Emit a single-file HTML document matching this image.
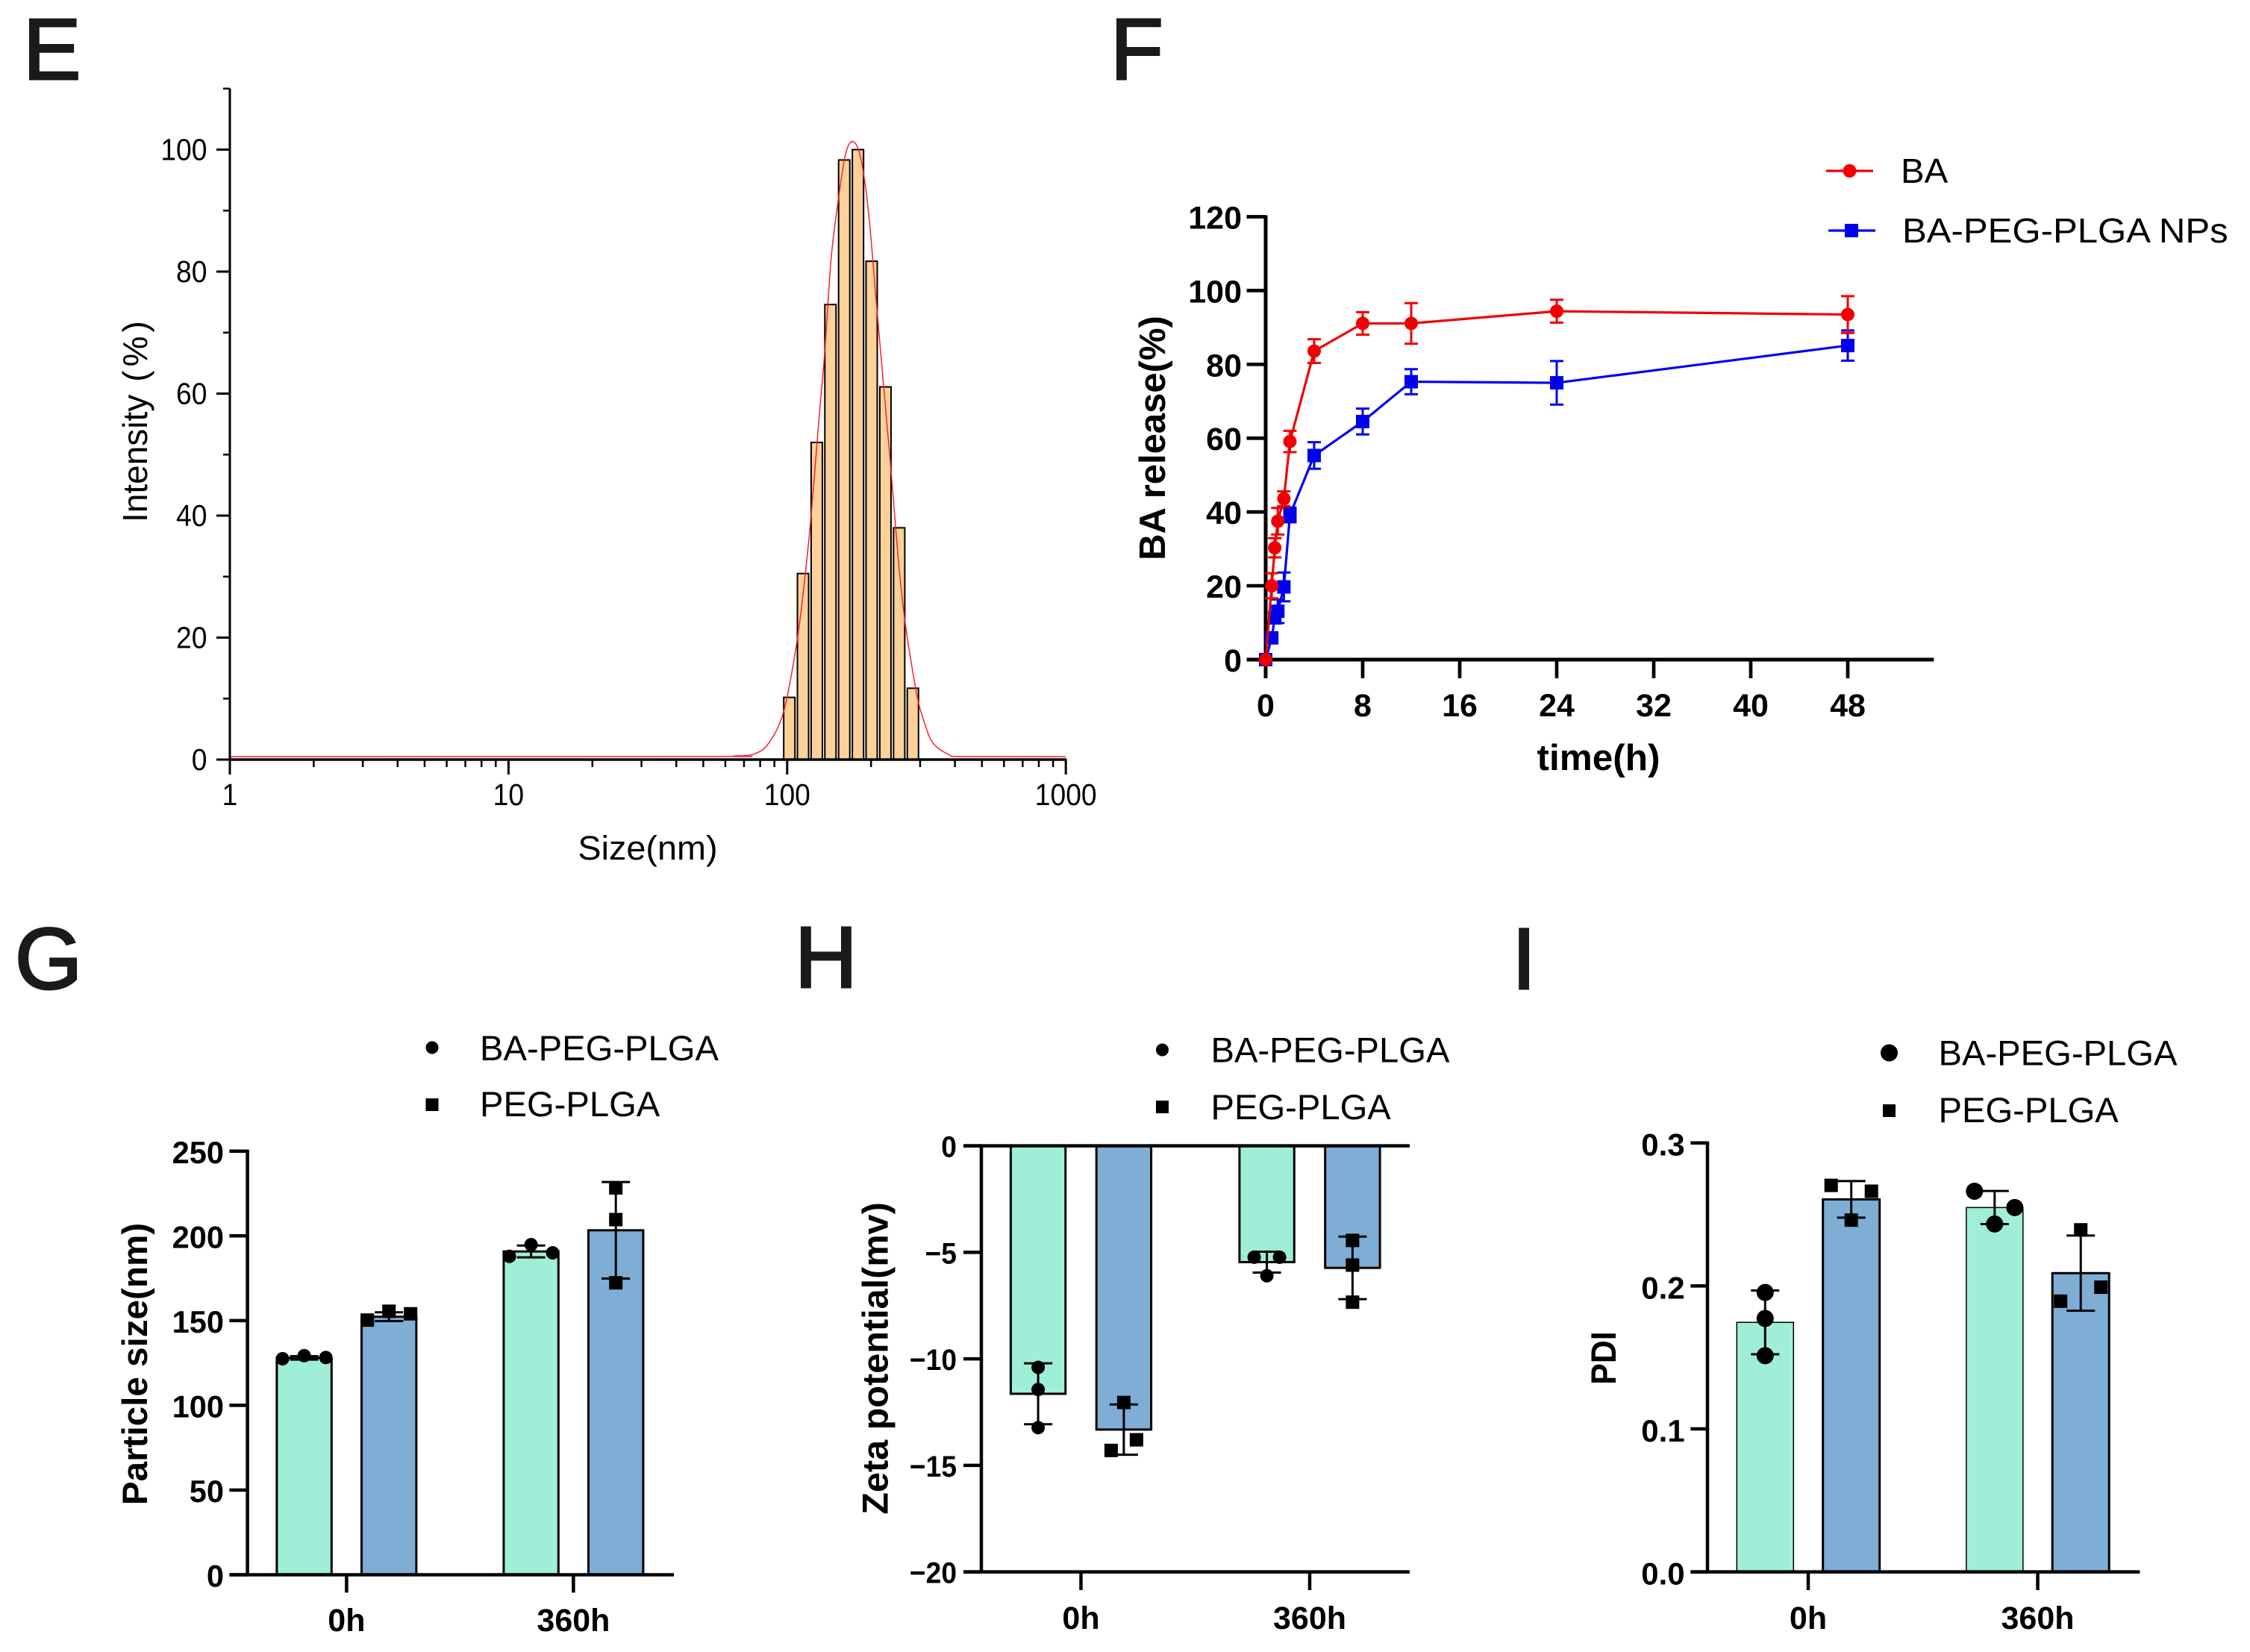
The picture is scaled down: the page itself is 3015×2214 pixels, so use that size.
<!DOCTYPE html>
<html lang="en">
<head>
<meta charset="utf-8">
<title>Nanoparticle characterization panels E–I</title>
<style>
html,body{margin:0;padding:0;background:#fff}
svg{display:block}
text{font-family:"Liberation Sans",sans-serif;fill:#000}
.letter{font-size:116px;fill:#1a1a1a;stroke:#1a1a1a;stroke-width:3px}
.leg{font-size:47.2px}
.title{font-size:47.6px;font-weight:bold}
</style>
</head>
<body>
<svg id="fig" xmlns="http://www.w3.org/2000/svg" width="3015" height="2214" viewBox="0 0 3015 2214">
  <rect width="3015" height="2214" fill="#fff"/>
  <text class="letter" x="31" y="106">E</text>
  <text class="letter" x="1488" y="106">F</text>
  <text class="letter" x="20" y="1325">G</text>
  <text class="letter" x="1065" y="1323">H</text>
  <text class="letter" x="2026" y="1325">I</text>

  <g id="panelE"></g>
  <text font-size="45" text-anchor="middle" transform="translate(868,1152) scale(1.04,1)">Size(nm)</text>
  <text font-size="46" transform="translate(197,700) rotate(-90)">Intensity<tspan dx="17">(</tspan><tspan dx="5">%</tspan><tspan dx="5">)</tspan></text>

  <g id="panelF"></g>
  <text font-size="49.5" font-weight="bold" text-anchor="middle" x="2142" y="1032">time(h)</text>
  <text font-size="49" font-weight="bold" text-anchor="middle" transform="translate(1561,587) rotate(-90)">BA release(%)</text>
  <g>
    <line x1="2447" x2="2510" y1="229" y2="229" stroke="#f00000" stroke-width="3.2"/>
    <circle cx="2478.5" cy="229" r="9" fill="#f00000"/>
    <text font-size="46" transform="translate(2547,245) scale(1.03,1)">BA</text>
    <line x1="2450" x2="2513" y1="309" y2="309" stroke="#0000f0" stroke-width="3.2"/>
    <rect x="2472" y="300" width="18" height="18" fill="#0000f0"/>
    <text font-size="46" transform="translate(2549,325) scale(1.068,1)">BA-PEG-PLGA NPs</text>
  </g>

  <g id="panelG"></g>
  <text class="title" text-anchor="middle" transform="translate(197,1828) rotate(-90)">Particle size(nm)</text>
  <g>
    <circle cx="579" cy="1404" r="8.5" fill="#000"/>
    <rect x="570.5" y="1472" width="17" height="17" fill="#000"/>
    <text class="leg" x="643" y="1421">BA-PEG-PLGA</text>
    <text class="leg" x="643" y="1496">PEG-PLGA</text>
  </g>

  <g id="panelH"></g>
  <text class="title" text-anchor="middle" style="font-size:48.6px" transform="translate(1189.5,1820.5) rotate(-90)">Zeta potential(mv)</text>
  <g>
    <circle cx="1557.5" cy="1407" r="8.5" fill="#000"/>
    <rect x="1549" y="1475" width="17" height="17" fill="#000"/>
    <text class="leg" x="1622.5" y="1423.7">BA-PEG-PLGA</text>
    <text class="leg" x="1622.5" y="1500">PEG-PLGA</text>
  </g>

  <g id="panelI"></g>
  <text class="title" text-anchor="middle" transform="translate(2165,1820) rotate(-90) scale(0.9,1)">PDI</text>
  <g>
    <circle cx="2531.5" cy="1411" r="11.5" fill="#000"/>
    <rect x="2523" y="1480" width="17" height="17" fill="#000"/>
    <text class="leg" x="2597.5" y="1427.6">BA-PEG-PLGA</text>
    <text class="leg" x="2597.5" y="1504">PEG-PLGA</text>
  </g>
</svg>

<script>
// ---- Panel E data: size distribution ----
const eBinSizes = [101.8, 114, 127.7, 143, 160.2, 179.5, 201, 225.2, 252.3, 282.6];
const eBinIntensity = [10.2, 30.5, 52, 74.6, 98.3, 100, 81.7, 61.1, 38, 11.7];
const eCurveSizes = [1, 52.5, 64.4, 75.9, 85.9, 97.2, 107.7, 114.6, 121.9, 129.6, 136.5, 143.7, 152.8, 162.5, 172.9, 183.9, 195.6, 208, 221.3, 235.3, 250.3, 263.6, 277.4, 295.1, 313.8, 333.8, 377.6, 430, 1000];
const eCurveValues = [0.47, 0.5, 0.6, 0.9, 2.7, 7.9, 18.5, 28, 40, 55, 67, 82, 92, 99.5, 101.3, 98.5, 90, 76, 61.8, 48, 33, 23.3, 16.5, 9.6, 5.5, 2.7, 0.9, 0.5, 0.47];
const eXMajor = [1, 10, 100, 1000];
const eXMinor = [2, 3, 4, 5, 6, 7, 8, 9, 20, 30, 40, 50, 60, 70, 80, 90, 200, 300, 400, 500, 600, 700, 800, 900];
const eYMajor = [0, 20, 40, 60, 80, 100];
const eYMinor = [10, 30, 50, 70, 90, 110];

// ---- Panel F data: release ----
const fTimes = [0, 0.5, 0.75, 1, 1.5, 2, 4, 8, 12, 24, 48];
const fBa = [0, 20, 30.3, 37.5, 43.6, 59.1, 83.6, 91.1, 91.1, 94.4, 93.5];
const fBaErr = [0, 3.4, 2.6, 3.6, 2, 2.9, 3.2, 3.05, 5.5, 3.1, 5];
const fNps = [0, 5.9, 11.3, 13.1, 19.7, 39.2, 55.3, 64.5, 75.3, 75, 85.1];
const fNpsErr = [0, 0.5, 1.5, 3.2, 3.9, 2, 3.6, 3.5, 3.4, 5.9, 4.1];
const fXTicks = [0, 8, 16, 24, 32, 40, 48];
const fYTicks = [0, 20, 40, 60, 80, 100, 120];

// ---- Panel G data: particle size ----
const gCategories = ['0h', '360h'];
const gYTicks = [0, 50, 100, 150, 200, 250];
const gBaMeans = [128, 190.8];
const gPegMeans = [152.3, 203.3];
const gBaErr = [1, 3.5];
const gPegErr = [2.6, 28.5];
const gBaPoints = [[127.5, 129.3, 128.2], [187.9, 194.8, 190]];
const gPegPoints = [[150.3, 155.5, 154], [228.3, 209.6, 172.3]];
const gBaSpread = [[-1, 0, 1], [-1, 0, 1]];
const gPegSpread = [[-1, 0, 1], [0, 0, 0]];

// ---- Panel H data: zeta potential ----
const hCategories = ['0h', '360h'];
const hYTicks = [0, -5, -10, -15, -20];
const hBaMeans = [-11.64, -5.46];
const hPegMeans = [-13.32, -5.73];
const hBaErr = [1.43, 0.49];
const hPegErr = [1.18, 1.47];
const hBaPoints = [[-10.4, -11.44, -13.23], [-5.23, -5.23, -6.1]];
const hPegPoints = [[-12.05, -14.3, -13.8], [-4.44, -5.6, -7.34]];
const hBaSpread = [[0, 0, 0], [-1, 1, 0]];
const hPegSpread = [[0, -1, 1], [0, 0, 0]];

// ---- Panel I data: PDI ----
const iCategories = ['0h', '360h'];
const iYTicks = [0, 0.1, 0.2, 0.3];
const iBaMeans = [0.1745, 0.2548];
const iPegMeans = [0.2605, 0.2089];
const iBaErr = [0.0223, 0.0116];
const iPegErr = [0.0128, 0.0263];
const iBaPoints = [[0.1954, 0.1772, 0.1512], [0.2662, 0.2548, 0.2433]];
const iPegPoints = [[0.2703, 0.2662, 0.246], [0.2392, 0.1991, 0.1893]];
const iBaSpread = [[0, 0, 0], [-1, 1, 0]];
const iPegSpread = [[-1, 1, 0], [0, 1, -1]];

const NS = 'http://www.w3.org/2000/svg';
function make(parent, tag, props) {
  const n = document.createElementNS(NS, tag);
  for (const k in props) n.setAttribute(k, props[k]);
  parent.appendChild(n);
  return n;
}
function seg(parent, x1, y1, x2, y2, color, w, name) {
  const n = make(parent, 'line', { x1: x1, y1: y1, x2: x2, y2: y2, stroke: color, 'stroke-width': w });
  
  
  return n;
}
function label(parent, x, y, str, size, weight, anchor, sx, name) {
  const n = make(parent, 'text', { 'font-size': size, 'font-weight': weight, 'text-anchor': anchor, transform: 'translate(' + x + ',' + y + ') scale(' + sx + ',1)' });
  n.textContent = str;
  
  
  return n;
}
function marker(parent, shape, x, y, size, color, name) {
  let n;
  if (shape === 'circle') n = make(parent, 'circle', { cx: x, cy: y, r: size / 2, fill: color });
  else n = make(parent, 'rect', { x: x - size / 2, y: y - size / 2, width: size, height: size, fill: color });
  
  
  return n;
}
function errorBar(parent, x, yHi, yLo, half, color, w, name) {
  seg(parent, x, yHi, x, yLo, color, w, name + '-stem');
  seg(parent, x - half, yHi, x + half, yHi, color, w, name + '-cap-top');
  seg(parent, x - half, yLo, x + half, yLo, color, w, name + '-cap-bottom');
}

// ---------- Panel E ----------
(function () {
  const g = document.getElementById('panelE');
  const xE = s => 308 + Math.log10(s) * 373.4;
  const yE = v => 1018 - v * 8.175;
  const barHalfLog = 0.0201;
  eBinSizes.forEach((s, i) => {
    const x0 = xE(s / Math.pow(10, barHalfLog));
    const x1 = xE(s * Math.pow(10, barHalfLog));
    const b = make(g, 'rect', { x: x0, y: yE(eBinIntensity[i]), width: x1 - x0, height: yE(0) - yE(eBinIntensity[i]), fill: '#fdd197', stroke: '#000', 'stroke-width': 2 });
    
    
  });
  const pts = eCurveSizes.map((s, i) => [xE(s), yE(eCurveValues[i])]);
  let d = 'M' + pts[0][0] + ' ' + pts[0][1];
  for (let i = 0; i < pts.length - 1; i++) {
    const p0 = pts[Math.max(i - 1, 0)], p1 = pts[i], p2 = pts[i + 1], p3 = pts[Math.min(i + 2, pts.length - 1)];
    const lim = i === 0 || i >= pts.length - 2 ? 0 : 1 / 6;
    d += 'C' + (p1[0] + (p2[0] - p0[0]) * lim) + ' ' + (p1[1] + (p2[1] - p0[1]) * lim) + ' ' +
      (p2[0] - (p3[0] - p1[0]) * lim) + ' ' + (p2[1] - (p3[1] - p1[1]) * lim) + ' ' + p2[0] + ' ' + p2[1];
  }
  const c = make(g, 'path', { d: d, fill: 'none', stroke: '#f5222d', 'stroke-width': 1.5 });
  
  

  seg(g, xE(1), yE(0), xE(1000) + 1, yE(0), '#000', 3.5, 'x-axis-line');
  seg(g, xE(1), yE(0) + 1, xE(1), yE(110), '#000', 3, 'y-axis-line');
  eXMajor.forEach(v => {
    seg(g, xE(v), yE(0), xE(v), yE(0) + 20, '#000', 3, 'x-major-tick');
    label(g, xE(v), 1079, String(v), 40.5, 'normal', 'middle', 0.92, 'x-tick-label');
  });
  eXMinor.forEach(v => {
    seg(g, xE(v), yE(0), xE(v), yE(0) + 10, '#000', 2.5, 'x-minor-tick');
  });
  eYMajor.forEach(v => {
    seg(g, xE(1) - 18, yE(v), xE(1), yE(v), '#000', 3, 'y-major-tick');
    label(g, 277.5, yE(v) + 14, String(v), 40.5, 'normal', 'end', 0.92, 'y-tick-label');
  });
  eYMinor.forEach(v => {
    seg(g, xE(1) - 9, yE(v), xE(1), yE(v), '#000', 2.5, 'y-minor-tick');
  });
})();

// ---------- Panel F ----------
(function () {
  const g = document.getElementById('panelF');
  const xF = t => 1696 + t * 16.25;
  const yF = v => 884 - v * 4.946;
  function series(values, errs, color, shape, name) {
    errs.forEach((e, i) => {
      if (e > 0) errorBar(g, xF(fTimes[i]), yF(values[i] + e), yF(values[i] - e), 9, color, 3, name + '-error');
    });
    const line = make(g, 'polyline', { points: values.map((v, i) => xF(fTimes[i]) + ',' + yF(v)).join(' '), fill: 'none', stroke: color, 'stroke-width': 3.2 });
    
    
    values.forEach((v, i) => {
      marker(g, shape, xF(fTimes[i]), yF(v), 18, color, name + '-point');
    });
  }
  seg(g, xF(0), yF(120) - 2, xF(0), 909, '#000', 5, 'y-axis-line');
  seg(g, 1670.5, yF(0), xF(55.1), yF(0), '#000', 5, 'x-axis-line');
  fXTicks.forEach(v => {
    seg(g, xF(v), yF(0), xF(v), 909, '#000', 4.7, 'x-tick');
    label(g, xF(v), 960, String(v), 43, 'bold', 'middle', 1, 'x-tick-label');
  });
  fYTicks.forEach(v => {
    seg(g, 1670.5, yF(v), xF(0), yF(v), '#000', 4.7, 'y-tick');
    label(g, 1664, yF(v) + 16, String(v), 43, 'bold', 'end', 1, 'y-tick-label');
  });
  series(fNps, fNpsErr, '#0000f0', 'rect', 'ba-peg-plga-nps');
  series(fBa, fBaErr, '#f00000', 'circle', 'ba');
})();

// ---------- Bar panels ----------
function barPanel(opts) {
  const g = opts.group;
  const y = opts.yScale;
  const xCat = i => opts.catX0 + i * opts.catStep;
  const xBar = (c, s) => xCat(c) + (s === 0 ? -opts.barOffset : opts.barOffset);
  const sets = [
    { means: opts.baMeans, errs: opts.baErr, pts: opts.baPoints, spread: opts.baSpread, fill: '#9feed8', shape: 'circle', size: opts.circleSize, name: 'ba-peg-plga' },
    { means: opts.pegMeans, errs: opts.pegErr, pts: opts.pegPoints, spread: opts.pegSpread, fill: '#7eadd6', shape: 'rect', size: 18, name: 'peg-plga' }
  ];
  sets.forEach((set, s) => {
    set.means.forEach((m, c) => {
      const top = Math.min(y(m), y(0));
      const h = Math.abs(y(m) - y(0));
      const r = make(g, 'rect', { x: xBar(c, s) - opts.barHalf, y: top, width: opts.barHalf * 2, height: h, fill: set.fill, stroke: '#000', 'stroke-width': s === 0 && opts.thinTeal ? 1.5 : 3 });
      
      
    });
  });
  sets.forEach((set, s) => {
    set.means.forEach((m, c) => {
      errorBar(g, xBar(c, s), y(m + set.errs[c]), y(m - set.errs[c]), 19, '#000', 3, set.name + '-error');
      set.pts[c].forEach((p, k) => {
        marker(g, set.shape, xBar(c, s) + set.spread[c][k] * opts.spreadPx, y(p), set.size, '#000', set.name + '-point');
      });
    });
  });
  const bottom = y(opts.yMin);
  seg(g, opts.axisX, y(opts.yMax) - 2, opts.axisX, bottom + 2, '#000', 4.5, 'y-axis-line');
  seg(g, opts.tickLeft, bottom, opts.axisRight, bottom, '#000', 4.5, 'x-axis-line');
  if (opts.topLine) seg(g, opts.tickLeft, y(0), opts.axisRight, y(0), '#000', 4.5, 'zero-line');
  opts.categories.forEach((cat, c) => {
    seg(g, xCat(c), bottom, xCat(c), opts.tickBottom, '#000', 4.5, 'x-tick');
    label(g, xCat(c), opts.catBaseline, cat, 43, 'bold', 'middle', 1, 'category-label');
  });
  opts.yTicks.forEach(v => {
    seg(g, opts.tickLeft, y(v), opts.axisX, y(v), '#000', 4.5, 'y-tick');
    const str = opts.format(v);
    label(g, opts.labelRight, y(v) + opts.labelDy, str, opts.labelSize, 'bold', 'end', opts.labelSx, 'y-tick-label');
  });
}

barPanel({
  group: document.getElementById('panelG'),
  yScale: v => 2110.5 - v * 2.271,
  yMin: 0, yMax: 250, catX0: 464.4, catStep: 304, barOffset: 56.8, barHalf: 36.7, spreadPx: 29, circleSize: 18,
  axisX: 331.6, tickLeft: 307.4, axisRight: 903, tickBottom: 2134.4, catBaseline: 2186, labelRight: 300, labelDy: 16, labelSize: 41.6, labelSx: 1,
  categories: gCategories, yTicks: gYTicks, baMeans: gBaMeans, pegMeans: gPegMeans, baErr: gBaErr, pegErr: gPegErr,
  baPoints: gBaPoints, pegPoints: gPegPoints, baSpread: gBaSpread, pegSpread: gPegSpread, format: v => String(v)
});

barPanel({
  group: document.getElementById('panelH'),
  yScale: v => 1535.6 + v * -28.55,
  yMin: -20, yMax: 0, catX0: 1448.5, catStep: 306.5, barOffset: 57.4, barHalf: 36.7, spreadPx: 17, circleSize: 18,
  axisX: 1315, tickLeft: 1291, axisRight: 1889, tickBottom: 2131, catBaseline: 2183, labelRight: 1282, labelDy: 15, labelSize: 40, labelSx: 0.93, topLine: true,
  categories: hCategories, yTicks: hYTicks, baMeans: hBaMeans, pegMeans: hPegMeans, baErr: hBaErr, pegErr: hPegErr,
  baPoints: hBaPoints, pegPoints: hPegPoints, baSpread: hBaSpread, pegSpread: hPegSpread, format: v => String(v).replace('-', '\u2212')
});

barPanel({
  group: document.getElementById('panelI'),
  yScale: v => 2106.6 - v * 1916.3,
  yMin: 0, yMax: 0.3, catX0: 2423, catStep: 307.5, barOffset: 57.7, barHalf: 38, spreadPx: 27, circleSize: 23, thinTeal: true,
  axisX: 2288, tickLeft: 2265.4, axisRight: 2867.4, tickBottom: 2131, catBaseline: 2183, labelRight: 2257.6, labelDy: 17, labelSize: 42, labelSx: 1,
  categories: iCategories, yTicks: iYTicks, baMeans: iBaMeans, pegMeans: iPegMeans, baErr: iBaErr, pegErr: iPegErr,
  baPoints: iBaPoints, pegPoints: iPegPoints, baSpread: iBaSpread, pegSpread: iPegSpread, format: v => v.toFixed(1)
});
</script>
</body>
</html>
